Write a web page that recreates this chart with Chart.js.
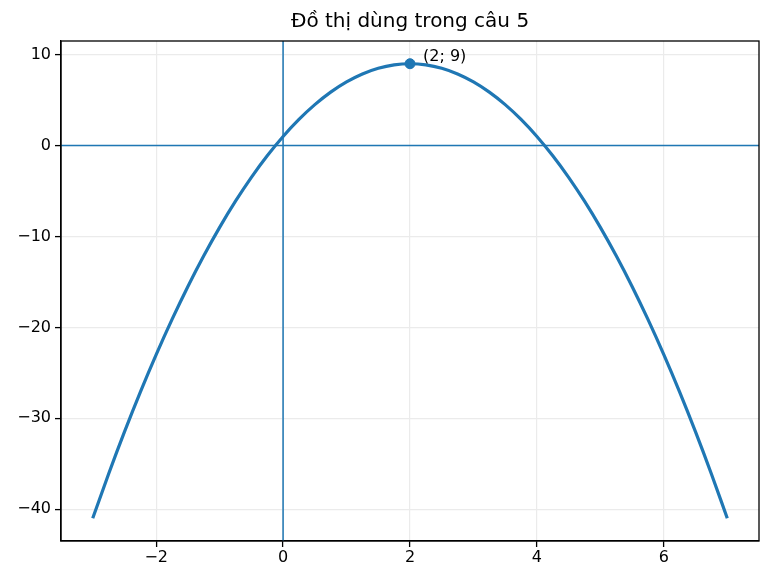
<!DOCTYPE html>
<html>
<head>
<meta charset="utf-8">
<script src="https://cdn.jsdelivr.net/npm/chart.js@4/dist/chart.umd.min.js"></script>
<style>
  html, body { margin: 0; padding: 0; background: #fff; }
  #wrap { width: 771px; height: 584px; }
</style>
</head>
<body>
<div id="wrap"><canvas id="chart"></canvas></div>
<script>
// Đồ thị dùng trong câu 5 - parabola with vertex marked
const xValues = [-3, -2.75, -2.5, -2.25, -2, -1.75, -1.5, -1.25, -1, -0.75, -0.5, -0.25,
  0, 0.25, 0.5, 0.75, 1, 1.25, 1.5, 1.75, 2, 2.25, 2.5, 2.75, 3, 3.25, 3.5, 3.75,
  4, 4.25, 4.5, 4.75, 5, 5.25, 5.5, 5.75, 6, 6.25, 6.5, 6.75, 7];
const yValues = [-41, -36.125, -31.5, -27.125, -23, -19.125, -15.5, -12.125, -9, -6.125, -3.5, -1.125,
  1, 2.875, 4.5, 5.875, 7, 7.875, 8.5, 8.875, 9, 8.875, 8.5, 7.875, 7, 5.875, 4.5, 2.875,
  1, -1.125, -3.5, -6.125, -9, -12.125, -15.5, -19.125, -23, -27.125, -31.5, -36.125, -41];
const vertex = { x: 2, y: 9, label: '(2; 9)' };
const xTicks = [-2, 0, 2, 4, 6];
const yTicks = [-40, -30, -20, -10, 0, 10];
const titleText = 'Đồ thị dùng trong câu 5';

const BLUE = '#1f77b4';
const GRID = '#ebebeb';
const FONT = "'DejaVu Sans', sans-serif";

const fmt = v => String(v).replace('-', '\u2212');

const extras = {
  id: 'extras',
  beforeDatasetsDraw(chart) {
    const { ctx, chartArea: a, scales: { x, y } } = chart;
    ctx.save();
    ctx.strokeStyle = BLUE;
    ctx.lineWidth = 1.5;
    const y0 = y.getPixelForValue(0);
    const x0 = x.getPixelForValue(0);
    ctx.beginPath();
    ctx.moveTo(a.left, y0); ctx.lineTo(a.right, y0);
    ctx.moveTo(x0, a.top); ctx.lineTo(x0, a.bottom);
    ctx.stroke();
    ctx.restore();
  },
  afterDraw(chart) {
    const { ctx, chartArea: a, scales: { x, y } } = chart;
    ctx.save();
    ctx.strokeStyle = '#000';
    ctx.lineWidth = 1.3;
    ctx.strokeRect(a.left, a.top, a.right - a.left, a.bottom - a.top);

    ctx.fillStyle = '#000';
    ctx.font = '16px ' + FONT;
    ctx.textAlign = 'left';
    ctx.textBaseline = 'alphabetic';
    ctx.fillText(vertex.label, x.getPixelForValue(vertex.x) + 13, y.getPixelForValue(vertex.y) - 3);

    ctx.font = '20px ' + FONT;
    ctx.textAlign = 'center';
    ctx.textBaseline = 'middle';
    ctx.fillText(titleText, (a.left + a.right) / 2, 22);
    ctx.restore();
  }
};

new Chart(document.getElementById('chart'), {
  type: 'scatter',
  data: {
    datasets: [
      {
        data: xValues.map((v, i) => ({ x: v, y: yValues[i] })),
        showLine: true,
        borderColor: BLUE,
        borderWidth: 3.2,
        pointRadius: 0,
        cubicInterpolationMode: 'monotone',
        order: 2
      },
      {
        data: [{ x: vertex.x, y: vertex.y }],
        backgroundColor: BLUE,
        borderColor: BLUE,
        pointRadius: 5,
        order: 1
      }
    ]
  },
  options: {
    responsive: true,
    maintainAspectRatio: false,
    animation: false,
    layout: { padding: { top: 41, right: 12, left: 0, bottom: 0 } },
    plugins: { legend: { display: false }, title: { display: false }, tooltip: { enabled: false } },
    scales: {
      x: {
        type: 'linear',
        min: -3.5,
        max: 7.5,
        afterBuildTicks: s => { s.ticks = xTicks.map(v => ({ value: v })); },
        afterFit: s => { s.height = 43; },
        grid: { color: GRID, lineWidth: 1.2, tickColor: '#000', tickLength: 6, tickWidth: 1.3 },
        border: { display: true, color: '#000', width: 1.3 },
        ticks: { color: '#000', font: { family: FONT, size: 16 }, padding: 1, maxRotation: 0, callback: v => fmt(v) }
      },
      y: {
        type: 'linear',
        min: -43.5,
        max: 11.5,
        afterBuildTicks: s => { s.ticks = yTicks.map(v => ({ value: v })); },
        afterFit: s => { s.width = 61; },
        grid: { color: GRID, lineWidth: 1.2, tickColor: '#000', tickLength: 6, tickWidth: 1.3 },
        border: { display: true, color: '#000', width: 1.3 },
        ticks: { color: '#000', font: { family: FONT, size: 16 }, padding: 4, callback: v => fmt(v) }
      }
    }
  },
  plugins: [extras]
});
</script>
</body>
</html>
